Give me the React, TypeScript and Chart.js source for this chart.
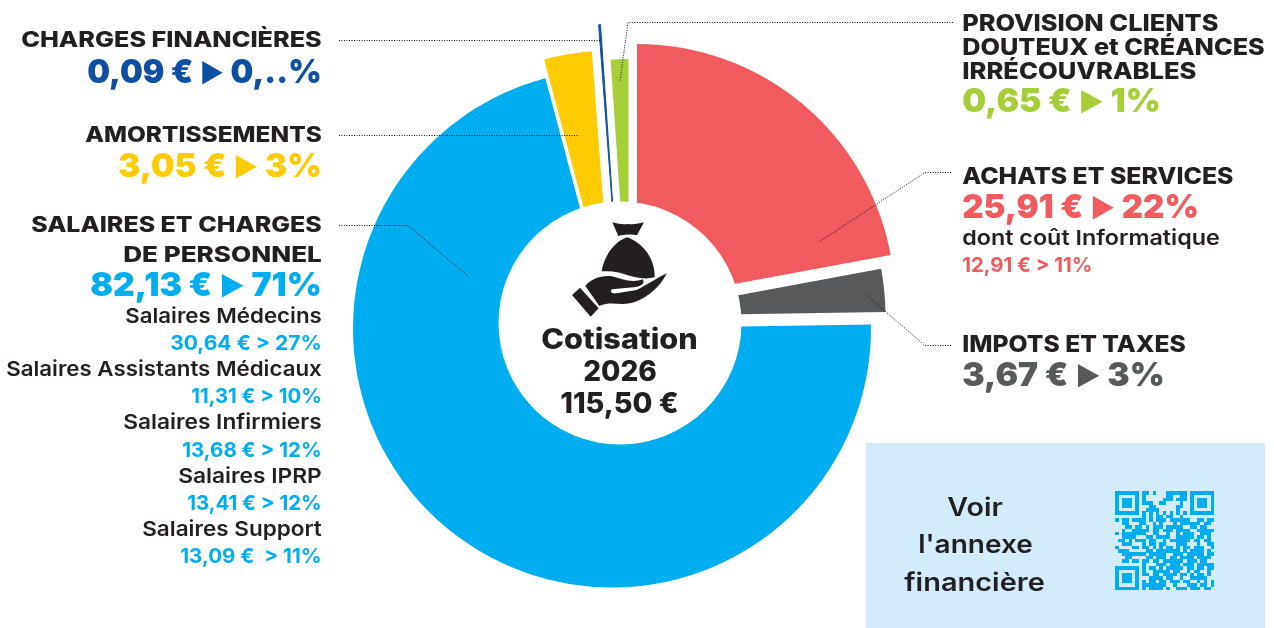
import React, { useEffect, useRef } from "react";
import { Chart, registerables } from "chart.js";

Chart.register(...registerables);

// Slices, clockwise from 12 o'clock
const categories = [
  "ACHATS ET SERVICES",
  "IMPOTS ET TAXES",
  "SALAIRES ET CHARGES DE PERSONNEL",
  "AMORTISSEMENTS",
  "CHARGES FINANCIÈRES",
  "PROVISION CLIENTS DOUTEUX et CRÉANCES IRRÉCOUVRABLES",
];
const drawnShares = [25.5, 3.08, 82.13, 3.4, 0.13, 1.25];
const sliceColors = ["#F15A5E", "#58595B", "#00AEEF", "#FFCB05", "#0F4FA3", "#A6CE39"];
const sliceBorders = [0, 0, 0, 0, 1, 0];

// Exploded slices: shift of each wedge's apex and its radius
const sliceShiftX = [17, 6.5, -8, -8.5, -2, 8.5];
const sliceShiftY = [-21, -7, 5.5, -10.4, -41, 0];
const sliceRadius = [258, 259, 259, 262, 258, 264];

const CX = 620;
const CY = 323;
const HOLE = 121.5;

const leaders: number[][][] = [
  [[339, 40.5], [600, 40.5]],
  [[339, 135.5], [579, 135.5]],
  [[339, 225.5], [408, 225.5], [468, 276]],
  [[953, 22.5], [628, 22.5], [620, 81]],
  [[951, 172.5], [925, 172.5], [819, 242]],
  [[951, 345.5], [925, 345.5], [865, 294]],
];

const INK = "#231F20";
const [RED, GREY, BLUE, YELLOW, NAVY, GREEN] = [
  sliceColors[0], sliceColors[1], sliceColors[2], sliceColors[3], sliceColors[4], sliceColors[5],
];

// text, left, right, baseline, size, weight, colour
type T = [string, number, number, number, number, number, string];
const texts: T[] = [
  ["CHARGES FINANCIÈRES", 22, 321, 47.3, 21.5, 800, INK],
  ["0,09 € ▶ 0,..%", 88, 321, 82.7, 33, 900, NAVY],
  ["AMORTISSEMENTS", 86, 321, 142, 21.5, 800, INK],
  ["3,05 € ▶ 3%", 119, 321, 176.7, 33, 900, YELLOW],
  ["SALAIRES ET CHARGES", 32, 321, 231.7, 21.5, 800, INK],
  ["DE PERSONNEL", 124, 321, 262, 21.5, 800, INK],
  ["82,13 € ▶ 71%", 91, 321, 295.7, 33, 900, BLUE],
  ["Salaires Médecins", 126, 321, 323.3, 20.5, 600, INK],
  ["30,64 € > 27%", 171, 321, 350, 20.5, 700, BLUE],
  ["Salaires Assistants Médicaux", 7, 321, 376, 20.5, 600, INK],
  ["11,31 € > 10%", 192, 321, 403, 20.5, 700, BLUE],
  ["Salaires Infirmiers", 124, 321, 429.3, 20.5, 600, INK],
  ["13,68 € > 12%", 183, 321, 456.7, 20.5, 700, BLUE],
  ["Salaires IPRP", 179, 321, 482.7, 20.5, 600, INK],
  ["13,41 € > 12%", 188, 321, 510, 20.5, 700, BLUE],
  ["Salaires Support", 143, 321, 536, 20.5, 600, INK],
  ["13,09 €  > 11%", 181, 321, 563.3, 20.5, 700, BLUE],
  ["PROVISION CLIENTS", 963, 1217.7, 31, 22.5, 800, INK],
  ["DOUTEUX et CRÉANCES", 963, 1264, 55, 22.5, 800, INK],
  ["IRRÉCOUVRABLES", 963, 1195.7, 79, 22.5, 800, INK],
  ["0,65 € ▶ 1%", 963, 1160, 112.3, 33, 900, GREEN],
  ["ACHATS ET SERVICES", 963, 1232.7, 184, 22.5, 800, INK],
  ["25,91 € ▶ 22%", 963, 1198, 218.3, 33, 900, RED],
  ["dont coût Informatique", 963, 1219, 245, 20.5, 600, INK],
  ["12,91 € > 11%", 963, 1091.7, 272, 20.5, 700, RED],
  ["IMPOTS ET TAXES", 963, 1185, 352, 22.5, 800, INK],
  ["3,67 € ▶ 3%", 963, 1164, 386, 33, 900, GREY],
  ["Cotisation", 542, 697, 348.5, 28, 800, INK],
  ["2026", 584, 656, 381, 28, 800, INK],
  ["115,50 €", 561, 678, 413, 28, 800, INK],
  ["Voir", 948, 1002, 516, 25, 600, INK],
  ["l'annexe", 919, 1032, 553, 25, 600, INK],
  ["financière", 905, 1044, 590.7, 25, 600, INK],
];

const qrRows = [
  "11111110110100011111101111111",
  "10000010100000011001101000001",
  "10111010100000111011101011101",
  "10111010111001100001001011101",
  "10111010001100000011001011101",
  "10000010011110000010001000001",
  "11111110101010101010101111111",
  "00000000101011011001000000000",
  "10110111101011101111110011011",
  "00110001100101000101111110110",
  "00011011010111011111001101100",
  "00100111110110111011110011111",
  "10111111100110010010111001110",
  "00111100011011110011111011010",
  "01101011101100101111110110110",
  "00111000101101100011100010011",
  "10000110110101011010110111001",
  "01110000011011111110101111010",
  "00111111101111100111011111011",
  "00011000011011101101111011110",
  "00110110110110111111011101100",
  "00000000100011101110111011111",
  "11111110101101011111011011011",
  "10000010100111110110010110010",
  "10111010110110111101101011010",
  "10111010001111011001001111100",
  "10111010101101101110110010101",
  "10000010111111100100011101101",
  "11111110101111010011101110110",
];

const explodePlugin = {
  id: "explode",
  afterDatasetsUpdate(chart: any) {
    const arcs = chart.getDatasetMeta(0).data;
    arcs.forEach((arc: any, i: number) => {
      arc.x = arc.x + sliceShiftX[i];
      arc.y = arc.y + sliceShiftY[i];
      arc.outerRadius = sliceRadius[i];
      arc.innerRadius = 0;
    });
  },
  afterDatasetsDraw(chart: any) {
    const ctx = chart.ctx;
    ctx.save();
    ctx.fillStyle = "#ffffff";
    ctx.beginPath();
    ctx.arc(CX, CY, HOLE, 0, Math.PI * 2);
    ctx.fill();
    ctx.strokeStyle = "#111111";
    ctx.lineWidth = 1;
    ctx.setLineDash([1, 1.5]);
    leaders.forEach((pts) => {
      ctx.beginPath();
      pts.forEach((p, i) => (i ? ctx.lineTo(p[0], p[1]) : ctx.moveTo(p[0], p[1])));
      ctx.stroke();
    });
    ctx.restore();
  },
};

export default function App() {
  const ref = useRef<HTMLCanvasElement>(null);
  useEffect(() => {
    document.body.style.margin = "0";
    const chart = new Chart(ref.current as HTMLCanvasElement, {
      type: "pie",
      data: {
        labels: categories,
        datasets: [
          {
            data: drawnShares,
            backgroundColor: sliceColors,
            borderColor: sliceColors,
            borderWidth: sliceBorders,
          },
        ],
      },
      options: {
        animation: false,
        responsive: false,
        layout: { padding: { left: 361, right: 395, top: 64, bottom: 46 } },
        plugins: { legend: { display: false }, tooltip: { enabled: false }, title: { display: false } },
      },
      plugins: [explodePlugin],
    } as any);
    return () => chart.destroy();
  }, []);

  const m = 99 / 29;
  return (
    <div style={{ position: "relative", width: 1274, height: 628, overflow: "hidden", background: "#fff" }}>
      <div style={{ position: "absolute", left: 866, top: 443, width: 399, height: 185, background: "#D4ECFA" }} />
      <canvas ref={ref} width={1274} height={628} style={{ position: "absolute", left: 0, top: 0, width: 1274, height: 628 }} />
      <svg width={1274} height={628} style={{ position: "absolute", left: 0, top: 0 }}>
        {/* QR code */}
        <g fill="#00AEEF" shapeRendering="crispEdges">
          {qrRows.map((row, r) =>
            row.split("").map((c, k) =>
              c === "1" ? <rect key={r + "-" + k} x={1115 + k * m} y={491 + r * m} width={m + 0.1} height={m + 0.1} /> : null
            )
          )}
        </g>
        {/* money bag and hand */}
        <g transform="translate(490 200) scale(0.3333)" fill="#231F20">
          <path d="M367 67 C385 72 400 74 415 72 C432 74 448 70 462 67 L441 106 C425 102 402 103 385 108 Z" />
          <path d="M412 112 C462 130 496 180 494 232 C462 240 432 232 402 222 C380 214 356 214 335 214 C340 175 370 125 412 112 Z" />
          <path d="M286 258 C300 238 330 226 362 228 C395 236 425 250 458 238 C468 250 450 262 430 262 L366 268 C358 276 366 282 380 280 L440 270 C470 255 505 232 530 220 C515 255 470 300 420 310 C385 316 360 304 328 318 Z" />
          <path d="M246 285 L270 263 L326 325 L302 350 Z" />
        </g>
        {texts.map(([s, x0, x1, y, size, weight, color], i) => {
          const parts = s.split("▶");
          return (
            <text
              key={i}
              x={x0 - 0.8}
              y={y}
              textLength={x1 - x0 + 1.6}
              lengthAdjust="spacingAndGlyphs"
              fontFamily="Inter, 'Open Sans', sans-serif"
              fontSize={size}
              fontWeight={weight}
              fill={color}
              xmlSpace="preserve"
            >
              {parts.length > 1 ? (
                <>
                  {parts[0]}
                  <tspan fontSize={size * 0.78} dy={-1}>▶</tspan>
                  <tspan dy={1}>{parts[1]}</tspan>
                </>
              ) : (
                s
              )}
            </text>
          );
        })}
      </svg>
    </div>
  );
}
